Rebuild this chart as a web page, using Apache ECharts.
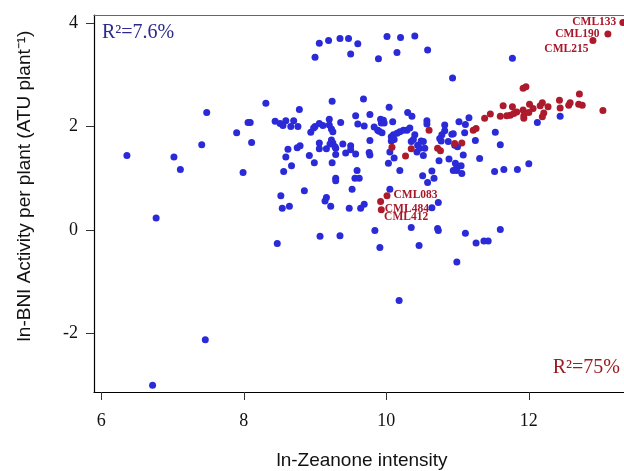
<!DOCTYPE html>
<html>
<head>
<meta charset="utf-8">
<script src="https://cdn.jsdelivr.net/npm/echarts@6/dist/echarts.min.js"></script>
<style>html,body{margin:0;padding:0;background:#fff}#c{width:624px;height:471px}</style>
</head>
<body>
<div id="c"></div>
<script>
// ---- data ----
const xTicks = [6, 8, 10, 12];
const yTicks = [-2, 0, 2, 4];

const blueX = [9.00,9.06,9.19,9.35,9.47,9.60,9.50,10.01,10.20,10.40,10.15,9.89,10.58,11.77,10.93,9.68,8.31,9.24,8.78,7.48,
10.04,10.30,10.36,9.57,9.77,9.20,11.16,12.44,9.92,9.96,8.06,8.09,8.44,8.51,8.55,8.59,8.70,8.66,8.76,8.94,
8.98,9.00,9.06,9.11,9.20,9.23,9.25,9.36,9.60,9.69,9.93,9.97,10.09,9.83,9.88,9.90,9.94,10.57,10.57,10.82,
11.02,11.11,12.12,7.90,10.82,11.10,11.53,10.92,10.94,10.78,10.75,10.07,10.10,10.15,10.19,10.24,10.29,10.33,10.07,10.11,
10.40,10.38,10.35,10.49,10.52,10.44,10.47,10.43,10.54,10.52,10.05,10.11,10.03,8.11,7.41,9.06,9.06,9.16,9.23,9.25,
9.21,9.28,9.29,8.79,8.75,8.62,8.92,9.29,8.59,9.39,9.50,9.50,9.43,9.57,9.77,9.76,9.77,6.36,7.02,7.11,
8.99,9.24,8.67,8.56,7.99,9.29,9.29,9.59,9.56,9.62,9.52,8.85,8.52,8.54,8.64,9.16,9.14,9.22,9.48,9.64,
9.69,10.05,6.77,8.47,9.07,9.35,7.46,6.72,10.77,10.87,10.96,11.00,11.25,11.60,11.08,10.74,10.88,11.31,10.97,11.05,
10.99,10.94,10.99,11.06,10.64,10.51,10.58,10.67,10.19,11.52,11.65,11.84,12.00,10.73,10.64,9.84,10.35,10.72,10.73,11.11,
11.60,9.91,10.46,11.26,11.37,11.43,10.99,10.18];
const blueY = [3.34,3.61,3.66,3.70,3.70,3.60,3.40,3.74,3.72,3.75,3.43,3.31,3.48,3.32,2.94,2.53,2.45,2.49,2.33,2.27,
2.37,2.27,2.20,2.21,2.23,2.14,2.17,2.20,2.14,2.12,2.08,2.08,2.10,2.06,2.02,2.11,2.11,2.00,2.00,1.89,
1.97,2.00,2.06,2.02,2.03,1.95,1.90,2.08,2.05,2.01,2.07,2.07,2.09,1.99,1.93,1.91,1.88,2.11,2.05,2.03,
2.09,2.04,2.08,1.88,1.92,1.88,1.89,1.85,1.86,1.84,1.77,1.80,1.84,1.87,1.90,1.93,1.93,1.97,1.72,1.75,
1.84,1.75,1.71,1.72,1.71,1.64,1.58,1.51,1.58,1.44,1.51,1.39,1.29,1.69,1.65,1.68,1.57,1.57,1.74,1.68,
1.66,1.61,1.58,1.63,1.59,1.56,1.44,1.46,1.41,1.66,1.63,1.55,1.49,1.47,1.73,1.50,1.45,1.44,1.41,1.17,
1.30,1.30,1.24,1.13,1.11,1.00,0.95,1.15,1.00,1.00,0.79,0.76,0.66,0.42,0.46,0.63,0.56,0.46,0.42,0.42,
0.50,0.79,0.23,-0.26,-0.12,-0.11,-2.12,-3.00,1.72,1.71,1.64,1.61,1.73,1.65,1.45,1.34,1.37,1.38,1.29,1.24,
1.22,1.15,1.15,1.09,1.14,1.05,0.92,1.00,1.15,1.13,1.17,1.17,1.28,0.53,0.43,-0.01,0.05,0.03,-0.01,-0.06,
0.01,-0.34,-0.30,-0.25,-0.21,-0.21,-0.62,-1.36];

// first six red points carry the line names below
const redNames = ['CML133','CML190','CML215','CML083','CML484','CML412'];
const redX = [13.32,13.11,12.90,10.01,9.93,9.92,
11.92,11.96,12.43,12.44,12.56,12.58,12.71,12.70,12.75,13.04,12.19,12.16,12.27,12.21,
12.19,12.06,12.01,11.92,11.93,11.93,12.00,11.83,11.79,11.74,11.69,11.77,11.64,11.60,11.46,11.38,11.22,11.26,10.60,10.96,
11.06,10.72,10.76,10.35,10.08,10.27];
const redY = [4.01,3.79,3.66,0.66,0.39,0.55,
2.74,2.77,2.51,2.36,2.41,2.46,2.63,2.43,2.41,2.31,2.46,2.40,2.38,2.26,
2.19,2.35,2.43,2.32,2.21,2.16,2.27,2.28,2.25,2.22,2.21,2.38,2.40,2.20,2.24,2.16,1.93,1.96,1.93,1.67,
1.68,1.58,1.53,1.57,1.60,1.43];

const r2Blue = 'R²=7.6%';
const r2Red = 'R²=75%';
const xTitle = 'ln-Zeanone intensity';
const yTitle = 'ln-BNI Activity per plant (ATU plant⁻¹)';

// ---- styles ----
const BLUE = '#2a2ad8';
const RED = '#ad1a2c';
const LABEL_RED = '#a8182a';
const labelStyle = {
  CML133: {position: 'left', distance: 3, offset: [0, 0]},
  CML190: {position: 'left', distance: 5, offset: [0, 0]},
  CML215: {position: 'left', distance: 1, offset: [0, 8]},
  CML083: {position: 'right', distance: 3, offset: [0, -1]},
  CML484: {position: 'right', distance: 0, offset: [0, -1]},
  CML412: {position: 'right', distance: 0, offset: [0, 15.6]}
};

const blueData = blueX.map((x, i) => [x, blueY[i]]);
const redData = redX.map((x, i) => {
  const name = redNames[i];
  if (!name) return [x, redY[i]];
  const ls = labelStyle[name];
  return {
    value: [x, redY[i]],
    name: name,
    label: {
      show: true, formatter: name, position: ls.position, distance: ls.distance, offset: ls.offset,
      fontFamily: 'Liberation Serif', fontWeight: 'bold', fontSize: 11.5, color: LABEL_RED
    }
  };
});

const X_MIN = 5.898, X_MAX = 13.336, Y_MIN = -3.13, Y_MAX = 4.155;

const chart = echarts.init(document.getElementById('c'), null, {renderer: 'canvas'});
chart.setOption({
  animation: false,
  backgroundColor: '#fff',
  grid: {left: 94, top: 15, right: 0, bottom: 79, containLabel: false},
  xAxis: [{
    type: 'value', min: X_MIN, max: X_MAX, position: 'bottom',
    splitLine: {show: false},
    axisLine: {show: true, onZero: false, lineStyle: {color: '#000', width: 1.2}},
    axisTick: {show: true, customValues: xTicks, length: 8, lineStyle: {color: '#333'}},
    axisLabel: {customValues: xTicks, fontFamily: 'Liberation Serif', fontSize: 18, color: '#111', margin: 20}
  }, {
    type: 'value', min: X_MIN, max: X_MAX, position: 'top',
    splitLine: {show: false},
    axisLine: {show: true, onZero: false, lineStyle: {color: '#666', width: 1.2}},
    axisTick: {show: false}, axisLabel: {show: false}
  }],
  yAxis: [{
    type: 'value', min: Y_MIN, max: Y_MAX, position: 'left',
    splitLine: {show: false},
    axisLine: {show: true, onZero: false, lineStyle: {color: '#000', width: 1.2}},
    axisTick: {show: true, customValues: yTicks, length: 8, lineStyle: {color: '#333'}},
    axisLabel: {customValues: yTicks, fontFamily: 'Liberation Serif', fontSize: 18, color: '#111', margin: 16}
  }],
  series: [{
    type: 'scatter', data: blueData, symbol: 'circle', symbolSize: 7,
    itemStyle: {color: BLUE, opacity: 1}, clip: false, silent: true
  }, {
    type: 'scatter', data: redData, symbol: 'circle', symbolSize: 7,
    itemStyle: {color: RED, opacity: 1}, clip: false, silent: true
  }],
  graphic: [
    {type: 'text', x: 102, y: 33, style: {text: r2Blue, fontFamily: 'Liberation Serif', fontSize: 20, fill: '#2b2b8c', align: 'left', verticalAlign: 'middle'}},
    {type: 'text', x: 620, y: 368, style: {text: r2Red, fontFamily: 'Liberation Serif', fontSize: 20, fill: '#981c22', align: 'right', verticalAlign: 'middle'}},
    {type: 'text', x: 362, y: 461, style: {text: xTitle, fontFamily: 'Liberation Sans', fontSize: 19, fill: '#111', align: 'center', verticalAlign: 'middle'}},
    {type: 'text', x: 25, y: 186, rotation: Math.PI / 2, style: {text: yTitle, fontFamily: 'Liberation Sans', fontSize: 19, fill: '#111', align: 'center', verticalAlign: 'middle'}}
  ]
});
</script>
</body>
</html>
